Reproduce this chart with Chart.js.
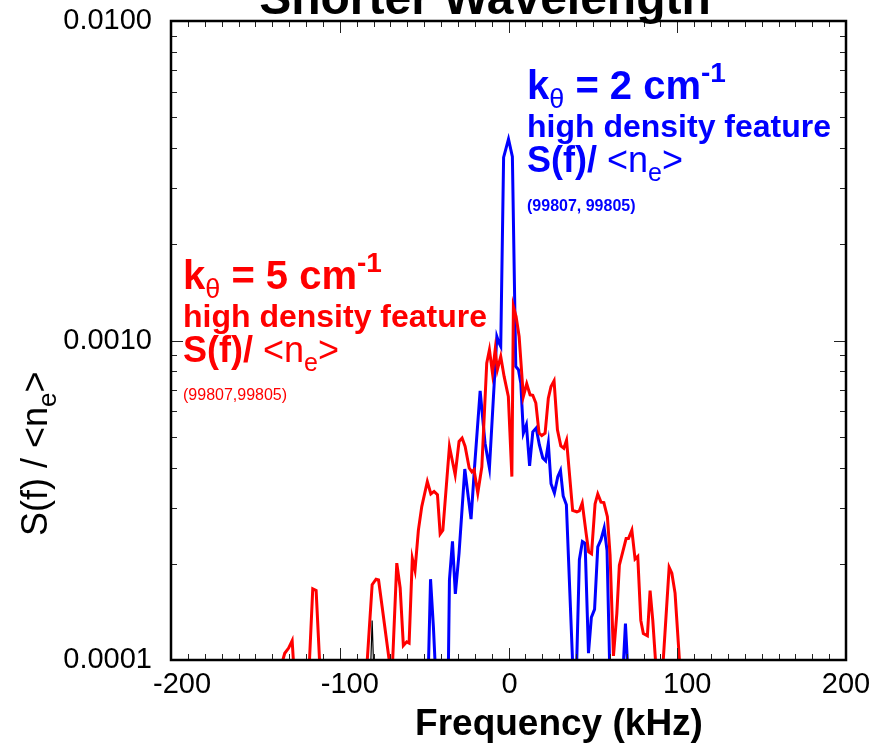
<!DOCTYPE html>
<html>
<head>
<meta charset="utf-8">
<script src="https://cdn.jsdelivr.net/npm/chart.js@4/dist/chart.umd.min.js"></script>
<style>
  html, body { margin: 0; padding: 0; background: #ffffff; }
  #wrap { width: 894px; height: 743px; position: relative; }
</style>
</head>
<body>
<div id="wrap"><canvas id="c" width="894" height="743"></canvas></div>
<script>
// Spectrum S(f)/<ne>, k_theta = 5 cm^-1 (red); 9.8e-5 marks samples at/below the 1e-4 floor
const redFreq = [-134.2, -132.6, -130.3, -128.2, -127.4, -118.0, -116.0, -114.0, -111.9, -83.8,
  -80.8, -78.5, -77.0, -74.9, -70.5, -68.7, -66.2, -64.2, -62.3, -60.3,
  -58.9, -57.0, -55.4, -53.4, -51.4, -48.1, -46.0, -44.1, -42.1, -40.5,
  -38.9, -35.0, -31.6, -29.3, -27.5, -25.7, -23.3, -21.7, -20.4, -18.2,
  -15.8, -12.9, -11.3, -9.5, -7.9, -6.6, -4.6, -2.6, -0.1, 2.0,
  2.9, 4.5, 6.3, 8.8, 10.8, 12.8, 14.4, 16.2, 18.1, 19.7,
  21.7, 23.6, 25.2, 27.0, 29.0, 31.0, 32.8, 34.4, 38.0, 40.5,
  42.0, 43.7, 46.0, 47.5, 49.2, 51.3, 52.9, 54.8, 56.5, 58.6,
  60.2, 62.2, 64.2, 65.7, 69.7, 71.1, 73.1, 75.0, 76.6, 78.4,
  79.9, 82.3, 83.9, 85.5, 87.2, 91.6, 95.2, 96.8, 98.7, 101.4];
const redValue = [9.8e-5, 1.05e-4, 1.09e-4, 1.15e-4, 9.8e-5, 9.8e-5, 1.67e-4, 1.65e-4, 9.8e-5, 9.8e-5,
  1.72e-4, 1.79e-4, 1.78e-4, 1.47e-4, 9.8e-5, 9.8e-5, 2.01e-4, 1.68e-4, 1.11e-4, 1.14e-4,
  1.13e-4, 2.08e-4, 1.91e-4, 2.55e-4, 3.02e-4, 3.62e-4, 3.31e-4, 3.37e-4, 3.29e-4, 2.48e-4,
  2.55e-4, 4.66e-4, 3.80e-4, 4.83e-4, 4.95e-4, 4.66e-4, 3.99e-4, 3.88e-4, 3.94e-4, 3.33e-4,
  4.02e-4, 8.49e-4, 9.35e-4, 7.91e-4, 9.35e-4, 8.10e-4, 8.91e-4, 7.72e-4, 6.68e-4, 3.75e-4,
  1.278e-3, 1.189e-3, 1.029e-3, 6.68e-4, 7.32e-4, 6.76e-4, 6.74e-4, 6.37e-4, 5.13e-4, 5.04e-4,
  5.13e-4, 6.60e-4, 7.18e-4, 7.48e-4, 5.25e-4, 4.68e-4, 4.60e-4, 4.87e-4, 2.94e-4, 2.91e-4,
  2.93e-4, 3.10e-4, 2.49e-4, 2.18e-4, 2.15e-4, 3.08e-4, 3.31e-4, 3.12e-4, 3.11e-4, 2.81e-4,
  2.13e-4, 1.03e-4, 1.40e-4, 1.98e-4, 2.40e-4, 2.40e-4, 2.55e-4, 2.07e-4, 2.11e-4, 1.33e-4,
  1.21e-4, 1.19e-4, 1.65e-4, 1.33e-4, 9.8e-5, 9.8e-5, 1.95e-4, 1.87e-4, 1.62e-4, 9.8e-5];

// Spectrum S(f)/<ne>, k_theta = 2 cm^-1 (blue)
const blueFreq = [-47.4, -46.2, -44.5, -43.5, -35.6, -35.0, -33.2, -31.5, -29.3, -25.9,
  -22.2, -20.1, -16.8, -13.9, -11.3, -6.9, -5.6, -4.6, -2.9, 0.0,
  2.3, 4.3, 5.9, 7.3, 8.8, 10.6, 12.5, 14.4, 16.4, 18.3,
  20.3, 22.0, 23.6, 25.2, 27.2, 29.2, 30.8, 32.4, 34.3, 38.0,
  40.4, 42.0, 43.8, 45.4, 47.4, 49.1, 51.0, 52.9, 54.8, 56.7,
  58.4, 59.9, 68.1, 69.3, 70.5];
const blueValue = [9.8e-5, 1.79e-4, 1.27e-4, 9.8e-5, 9.8e-5, 1.78e-4, 2.35e-4, 1.61e-4, 2.16e-4, 3.96e-4,
  2.76e-4, 4.03e-4, 6.96e-4, 4.77e-4, 3.99e-4, 1.029e-3, 9.82e-4, 9.58e-4, 3.74e-3, 4.27e-3,
  3.76e-3, 8.29e-4, 8.10e-4, 7.35e-4, 5.13e-4, 5.45e-4, 4.05e-4, 5.18e-4, 5.32e-4, 4.71e-4,
  4.29e-4, 4.20e-4, 4.77e-4, 3.56e-4, 3.33e-4, 3.75e-4, 3.92e-4, 3.26e-4, 3.06e-4, 9.8e-5,
  9.8e-5, 2.06e-4, 2.35e-4, 2.32e-4, 1.05e-4, 1.36e-4, 1.44e-4, 2.26e-4, 2.38e-4, 2.59e-4,
  2.20e-4, 9.8e-5, 9.8e-5, 1.30e-4, 9.8e-5];

// Reference trace (black), mostly below the plotted floor
const blackFreq = [-81.6, -80.8, -80.0];
const blackValue = [9.8e-5, 1.33e-4, 9.8e-5];

// Axis ticks
const xTickValues = [-200, -100, 0, 100, 200];
const yTickValues = [0.0001, 0.001, 0.01];
const yTickLabels = ['0.0001', '0.0010', '0.0100'];

const FONT = "'Liberation Sans', Arial, sans-serif";
// small horizontal nudges of individual x tick labels (px)
const X_LABEL_NUDGE = { '-200': 11, '-100': 10, '0': 1, '100': 10, '200': 0 };

function toPoints(xs, ys) {
  return xs.map((x, i) => ({ x: x, y: ys[i] }));
}

// Text drawn piecewise so that sub/superscripts can change size and offset
function richText(ctx, x, y, parts) {
  parts.forEach(p => {
    ctx.font = p.font;
    ctx.fillText(p.text, x, y + (p.dy || 0));
    x += ctx.measureText(p.text).width + (p.dx || 0);
  });
}

function labelBlock(ctx, x, y0, colour, kText) {
  ctx.fillStyle = colour;
  richText(ctx, x, y0, [
    { text: 'k', font: 'bold 40px ' + FONT },
    { text: 'θ', font: '27px ' + FONT, dy: 9 },
    { text: ' = ' + kText + ' cm', font: 'bold 40px ' + FONT },
    { text: '-1', font: 'bold 28px ' + FONT, dy: -17 }
  ]);
  ctx.font = 'bold 32px ' + FONT;
  ctx.fillText('high density feature', x, y0 + 38);
  richText(ctx, x, y0 + 73, [
    { text: 'S(f)/ ', font: 'bold 36px ' + FONT },
    { text: '<n', font: '36px ' + FONT },
    { text: 'e', font: '25px ' + FONT, dy: 9 },
    { text: '>', font: '36px ' + FONT }
  ]);
}

const framePlugin = {
  id: 'frame',
  afterDatasetsDraw(chart) {
    const { ctx, chartArea: a, scales } = chart;
    const xs = scales.x, ys = scales.y;
    ctx.save();
    ctx.strokeStyle = '#222';
    ctx.lineWidth = 1;
    ctx.beginPath();
    // x ticks: minor every 10 kHz, major every 100 kHz, pointing inward
    for (let v = -200; v <= 200; v += 10) {
      const px = Math.round(xs.getPixelForValue(v)) + 0.5;
      const len = (v % 100 === 0) ? 12 : 6;
      ctx.moveTo(px, a.bottom); ctx.lineTo(px, a.bottom - len);
      ctx.moveTo(px, a.top); ctx.lineTo(px, a.top + len);
    }
    // y ticks: decades major, 2..9 minor
    for (let d = -4; d <= -2; d++) {
      for (let m = 1; m <= 9; m++) {
        const v = m * Math.pow(10, d);
        if (v > 0.01 * 1.0001) break;
        const py = Math.round(ys.getPixelForValue(v)) + 0.5;
        const len = (m === 1) ? 12 : 6;
        ctx.moveTo(a.left, py); ctx.lineTo(a.left + len, py);
        ctx.moveTo(a.right, py); ctx.lineTo(a.right - len, py);
      }
    }
    ctx.stroke();
    ctx.strokeStyle = '#000';
    ctx.lineWidth = 2.5;
    ctx.strokeRect(a.left, a.top, a.right - a.left, a.bottom - a.top);

    // x tick labels
    ctx.fillStyle = '#000';
    ctx.font = '29px ' + FONT;
    ctx.textAlign = 'center';
    ctx.textBaseline = 'middle';
    xTickValues.forEach(v => {
      const txt = String(v);
      ctx.fillText(txt, xs.getPixelForValue(v) + (X_LABEL_NUDGE[txt] || 0), a.bottom + 25);
    });
    ctx.restore();
  },
  afterDraw(chart) {
    const { ctx } = chart;
    ctx.save();
    ctx.textBaseline = 'alphabetic';

    // Title, partly above the canvas top
    ctx.fillStyle = '#000';
    ctx.textAlign = 'center';
    ctx.font = 'bold 48px ' + FONT;
    ctx.fillText('Shorter Wavelength', 485, 14);

    // x-axis title
    ctx.font = 'bold 37px ' + FONT;
    ctx.fillText('Frequency (kHz)', 559, 735);

    // y-axis title, rotated
    ctx.save();
    ctx.translate(47, 536);
    ctx.rotate(-Math.PI / 2);
    ctx.textAlign = 'left';
    richText(ctx, 0, 0, [
      { text: 'S(f) / <n', font: '36px ' + FONT },
      { text: 'e', font: '26px ' + FONT, dy: 9 },
      { text: '>', font: '36px ' + FONT }
    ]);
    ctx.restore();

    ctx.textAlign = 'left';
    // k_theta = 5 block (red)
    labelBlock(ctx, 183, 289, '#ff0000', '5');
    ctx.font = '16px ' + FONT;
    ctx.fillText('(99807,99805)', 183, 400);

    // k_theta = 2 block (blue)
    labelBlock(ctx, 527, 99, '#0000ff', '2');
    ctx.font = 'bold 16px ' + FONT;
    ctx.fillText('(99807, 99805)', 527, 211);

    ctx.restore();
  }
};

new Chart(document.getElementById('c'), {
  type: 'line',
  data: {
    datasets: [
      { label: 'ref', data: toPoints(blackFreq, blackValue), borderColor: '#000000', borderWidth: 1.2, order: 0 },
      { label: 'k5', data: toPoints(redFreq, redValue), borderColor: '#ff0000', borderWidth: 3, order: 1 },
      { label: 'k2', data: toPoints(blueFreq, blueValue), borderColor: '#0000ff', borderWidth: 3, order: 2 }
    ]
  },
  options: {
    responsive: false,
    animation: false,
    events: [],
    layout: { padding: { top: 21, right: 48, left: 0, bottom: 0 } },
    elements: {
      point: { radius: 0 },
      line: { tension: 0, borderJoinStyle: 'miter', fill: false }
    },
    plugins: { legend: { display: false }, tooltip: { enabled: false }, title: { display: false } },
    scales: {
      x: {
        type: 'linear',
        min: -200, max: 200,
        afterBuildTicks: s => { s.ticks = xTickValues.map(v => ({ value: v })); },
        afterFit: s => { s.height = 83; s.paddingLeft = 0; s.paddingRight = 0; },
        grid: { display: false, drawTicks: false },
        border: { display: false },
        ticks: { display: false }
      },
      y: {
        type: 'logarithmic',
        min: 0.0001, max: 0.01,
        afterBuildTicks: s => { s.ticks = yTickValues.map(v => ({ value: v })); },
        afterFit: s => { s.width = 171; s.paddingTop = 0; s.paddingBottom = 0; },
        grid: { display: false, drawTicks: false },
        border: { display: false },
        ticks: {
          color: '#000',
          padding: 19,
          autoSkip: false,
          font: { family: FONT, size: 29 },
          callback: (v) => {
            const i = yTickValues.findIndex(t => Math.abs(t - v) / t < 1e-6);
            return i >= 0 ? yTickLabels[i] : '';
          }
        }
      }
    }
  },
  plugins: [framePlugin]
});
</script>
</body>
</html>
